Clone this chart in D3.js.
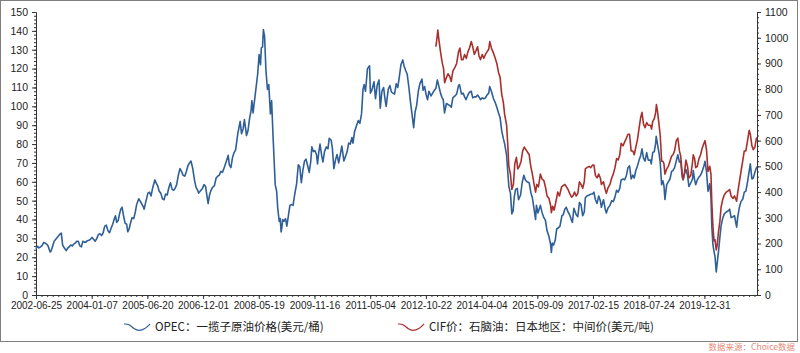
<!DOCTYPE html>
<html><head><meta charset="utf-8">
<script src="https://cdn.jsdelivr.net/npm/d3@7"></script>
<style>body{margin:0;background:#fff}svg{display:block}</style>
</head><body><svg id="c" width="800" height="353"></svg>
<script>
// ---------- data ----------
const xTickLabels = ["2002-06-25","2004-01-07","2005-06-20","2006-12-01","2008-05-19","2009-11-16","2011-05-04","2012-10-22","2014-04-04","2015-09-09","2017-02-15","2018-07-24","2019-12-31"];
const lastDate = "2021-05-10";
const leftTicks = [0,10,20,30,40,50,60,70,80,90,100,110,120,130,140,150];
const rightTicks = [0,100,200,300,400,500,600,700,800,900,1000,1100];
const seriesNames = ["OPEC：一揽子原油价格(美元/桶)", "CIF价：石脑油：日本地区：中间价(美元/吨)"];
const sourceText = "数据来源：Choice数据";

const opecData = [
["2002-06-25",24.5],["2002-07-10",25.8],["2002-07-25",25.0],["2002-08-10",25.5],["2002-08-25",26.2],["2002-09-10",27.8],["2002-09-25",27.5],["2002-10-10",27.0],["2002-10-25",26.0],["2002-11-10",23.5],["2002-11-15",22.8],["2002-11-25",23.5],["2002-12-10",26.0],["2002-12-25",28.5],
["2003-01-10",29.5],["2003-01-25",30.5],["2003-02-10",31.5],["2003-02-25",32.5],["2003-03-07",32.8],["2003-03-20",26.5],["2003-04-05",25.0],["2003-04-25",23.5],["2003-05-10",24.8],["2003-05-25",25.5],["2003-06-10",26.5],["2003-06-25",26.0],["2003-07-10",27.0],["2003-07-25",27.5],["2003-08-10",28.5],["2003-08-25",28.5],["2003-09-10",26.0],["2003-09-25",25.5],["2003-10-10",28.5],["2003-10-25",28.0],["2003-11-10",28.0],["2003-11-25",28.8],["2003-12-10",29.0],["2003-12-25",29.5],
["2004-01-10",30.5],["2004-01-25",29.5],["2004-02-10",28.5],["2004-02-25",30.0],["2004-03-10",32.0],["2004-03-25",32.5],["2004-04-10",31.5],["2004-04-25",33.0],["2004-05-10",36.5],["2004-05-25",37.0],["2004-06-10",34.0],["2004-06-25",33.0],["2004-07-10",35.5],["2004-07-25",37.5],["2004-08-10",40.5],["2004-08-20",42.0],["2004-09-01",38.5],["2004-09-15",39.5],["2004-09-30",43.5],["2004-10-10",45.5],["2004-10-22",46.5],["2004-11-05",42.0],["2004-11-20",38.0],["2004-12-05",37.5],["2004-12-15",33.5],["2004-12-28",35.0],
["2005-01-10",38.0],["2005-01-25",41.0],["2005-02-10",40.5],["2005-02-25",44.0],["2005-03-10",48.0],["2005-03-30",51.0],["2005-04-10",50.0],["2005-04-25",48.5],["2005-05-10",47.0],["2005-05-20",45.5],["2005-06-05",49.5],["2005-06-25",54.0],["2005-07-10",54.5],["2005-07-25",52.5],["2005-08-10",57.0],["2005-08-30",61.0],["2005-09-10",59.5],["2005-09-25",58.0],["2005-10-10",55.0],["2005-10-25",54.0],["2005-11-10",51.0],["2005-11-25",50.5],["2005-12-10",53.5],["2005-12-25",53.0],
["2006-01-10",57.0],["2006-01-25",59.5],["2006-02-10",56.0],["2006-02-25",55.5],["2006-03-10",56.5],["2006-03-25",58.5],["2006-04-10",63.5],["2006-04-25",67.0],["2006-05-10",65.5],["2006-05-25",63.5],["2006-06-10",63.0],["2006-06-25",65.5],["2006-07-10",68.5],["2006-07-25",70.0],["2006-08-08",71.0],["2006-08-25",67.0],["2006-09-10",61.0],["2006-09-25",57.0],["2006-10-10",55.5],["2006-10-20",54.0],["2006-11-10",55.5],["2006-11-25",56.5],["2006-12-10",58.5],["2006-12-25",57.5],
["2007-01-10",51.5],["2007-01-18",48.5],["2007-02-01",53.0],["2007-02-15",55.5],["2007-03-01",57.0],["2007-03-20",58.0],["2007-04-05",62.0],["2007-04-20",63.0],["2007-05-05",63.5],["2007-05-20",65.5],["2007-06-05",65.0],["2007-06-25",68.0],["2007-07-10",70.5],["2007-07-30",74.0],["2007-08-10",69.0],["2007-08-25",67.5],["2007-09-10",73.0],["2007-09-25",75.5],["2007-10-10",77.0],["2007-10-30",85.5],["2007-11-10",88.5],["2007-11-22",92.0],["2007-12-05",85.5],["2007-12-20",88.0],
["2008-01-02",93.0],["2008-01-22",84.5],["2008-02-05",87.0],["2008-02-20",93.5],["2008-03-05",97.5],["2008-03-14",103.0],["2008-03-25",96.5],["2008-04-10",104.0],["2008-04-25",111.0],["2008-05-08",117.0],["2008-05-22",127.5],["2008-06-05",122.0],["2008-06-13",131.0],["2008-06-25",131.5],["2008-07-03",140.7],["2008-07-15",137.0],["2008-07-28",119.0],["2008-08-12",109.0],["2008-08-25",111.5],["2008-09-10",96.0],["2008-09-22",103.0],["2008-10-05",85.0],["2008-10-15",73.0],["2008-10-27",58.5],["2008-11-10",55.0],["2008-11-20",46.5],["2008-12-05",39.0],["2008-12-15",40.5],["2008-12-24",33.4],["2008-12-31",35.6],
["2009-01-08",40.0],["2009-01-20",39.0],["2009-02-05",40.5],["2009-02-18",36.5],["2009-03-05",42.0],["2009-03-20",47.5],["2009-04-05",48.0],["2009-04-20",47.5],["2009-05-05",53.0],["2009-05-25",59.0],["2009-06-10",69.0],["2009-06-25",68.0],["2009-07-10",59.5],["2009-07-25",66.0],["2009-08-10",71.0],["2009-08-25",72.0],["2009-09-10",68.5],["2009-09-25",65.0],["2009-10-10",70.5],["2009-10-21",78.5],["2009-11-05",76.0],["2009-11-20",76.5],["2009-12-05",74.5],["2009-12-15",69.5],["2009-12-28",76.0],
["2010-01-08",80.0],["2010-01-25",73.5],["2010-02-05",70.5],["2010-02-20",76.0],["2010-03-10",78.5],["2010-03-25",77.5],["2010-04-06",83.0],["2010-04-25",82.0],["2010-05-06",78.0],["2010-05-21",67.0],["2010-06-05",71.5],["2010-06-20",74.5],["2010-07-06",70.0],["2010-07-25",75.5],["2010-08-05",79.0],["2010-08-25",71.0],["2010-09-10",73.5],["2010-09-25",76.0],["2010-10-10",80.5],["2010-10-25",80.0],["2010-11-10",83.5],["2010-11-20",80.5],["2010-12-05",86.5],["2010-12-25",90.0],
["2011-01-10",92.5],["2011-01-25",91.0],["2011-02-10",96.0],["2011-02-24",109.0],["2011-03-07",111.5],["2011-03-20",108.0],["2011-04-08",120.0],["2011-04-28",121.5],["2011-05-06",107.0],["2011-05-20",108.5],["2011-06-10",113.0],["2011-06-24",104.0],["2011-07-10",111.0],["2011-07-28",114.0],["2011-08-09",99.0],["2011-08-25",108.0],["2011-09-10",110.0],["2011-09-26",103.0],["2011-10-05",100.0],["2011-10-25",109.0],["2011-11-10",111.0],["2011-11-25",107.5],["2011-12-10",107.0],["2011-12-25",106.5],
["2012-01-10",112.0],["2012-01-25",110.0],["2012-02-10",116.0],["2012-02-24",122.0],["2012-03-13",124.6],["2012-03-25",121.5],["2012-04-10",119.0],["2012-04-25",117.0],["2012-05-10",110.5],["2012-05-25",103.0],["2012-06-10",96.0],["2012-06-26",88.7],["2012-07-10",97.0],["2012-07-25",100.5],["2012-08-10",108.0],["2012-08-25",112.0],["2012-09-14",114.5],["2012-09-25",108.5],["2012-10-10",110.5],["2012-10-25",106.0],["2012-11-07",103.5],["2012-11-20",108.0],["2012-12-10",105.5],["2012-12-25",107.0],
["2013-01-10",108.5],["2013-01-25",109.5],["2013-02-08",114.0],["2013-02-25",110.0],["2013-03-10",107.0],["2013-03-25",104.5],["2013-04-05",103.5],["2013-04-17",96.5],["2013-05-05",101.5],["2013-05-20",101.0],["2013-06-05",100.5],["2013-06-20",99.5],["2013-07-05",104.5],["2013-07-25",105.5],["2013-08-10",106.5],["2013-08-28",111.0],["2013-09-06",111.5],["2013-09-25",106.5],["2013-10-10",107.0],["2013-10-25",105.0],["2013-11-07",103.5],["2013-11-25",106.0],["2013-12-10",107.5],["2013-12-27",108.0],
["2014-01-10",104.5],["2014-01-25",105.0],["2014-02-10",105.0],["2014-02-25",106.0],["2014-03-10",105.0],["2014-03-25",103.5],["2014-04-10",104.5],["2014-04-25",104.0],["2014-05-10",104.5],["2014-05-25",106.0],["2014-06-10",107.0],["2014-06-19",110.5],["2014-07-05",108.0],["2014-07-25",104.0],["2014-08-10",102.0],["2014-08-25",99.5],["2014-09-10",96.5],["2014-09-25",94.0],["2014-10-10",87.0],["2014-10-25",83.0],["2014-11-07",80.0],["2014-11-25",74.0],["2014-12-05",66.0],["2014-12-16",57.5],["2014-12-31",54.0],
["2015-01-13",43.0],["2015-01-25",44.5],["2015-02-05",52.0],["2015-02-17",56.0],["2015-03-05",56.5],["2015-03-17",50.5],["2015-04-05",53.0],["2015-04-20",59.5],["2015-05-06",63.5],["2015-05-20",61.0],["2015-06-05",60.0],["2015-06-25",59.5],["2015-07-10",54.5],["2015-07-25",51.5],["2015-08-10",45.5],["2015-08-24",40.0],["2015-09-01",47.5],["2015-09-15",43.5],["2015-10-08",47.5],["2015-10-25",43.5],["2015-11-10",41.0],["2015-11-25",39.5],["2015-12-10",34.0],["2015-12-28",31.0],
["2016-01-12",27.0],["2016-01-20",22.5],["2016-01-28",27.5],["2016-02-10",26.5],["2016-02-25",29.0],["2016-03-10",35.0],["2016-03-25",35.5],["2016-04-10",36.5],["2016-04-28",42.0],["2016-05-10",42.5],["2016-05-26",45.5],["2016-06-08",46.5],["2016-06-25",44.0],["2016-07-10",42.5],["2016-07-28",39.5],["2016-08-05",38.5],["2016-08-19",46.0],["2016-09-10",42.5],["2016-09-25",41.5],["2016-10-10",49.0],["2016-10-25",48.0],["2016-11-10",42.0],["2016-11-25",44.0],["2016-12-05",51.5],["2016-12-20",52.5],
["2017-01-10",53.0],["2017-01-25",53.5],["2017-02-10",53.5],["2017-02-24",54.5],["2017-03-10",50.5],["2017-03-25",48.5],["2017-04-10",52.5],["2017-04-25",50.0],["2017-05-05",46.5],["2017-05-25",50.5],["2017-06-10",45.5],["2017-06-21",43.5],["2017-07-05",46.0],["2017-07-25",47.5],["2017-08-10",50.0],["2017-08-25",49.5],["2017-09-10",52.0],["2017-09-25",55.5],["2017-10-10",54.5],["2017-10-25",56.5],["2017-11-07",61.0],["2017-11-25",61.5],["2017-12-10",61.0],["2017-12-27",63.5],
["2018-01-10",67.5],["2018-01-25",68.5],["2018-02-09",61.5],["2018-02-25",63.5],["2018-03-10",62.0],["2018-03-25",66.0],["2018-04-10",68.5],["2018-04-25",71.5],["2018-05-10",74.0],["2018-05-22",77.5],["2018-06-05",72.5],["2018-06-20",71.0],["2018-07-05",75.5],["2018-07-20",71.5],["2018-08-10",71.5],["2018-08-17",69.5],["2018-08-31",75.5],["2018-09-15",76.0],["2018-09-28",80.5],["2018-10-03",84.1],["2018-10-15",80.0],["2018-10-30",75.0],["2018-11-10",70.0],["2018-11-23",58.5],["2018-12-05",60.5],["2018-12-15",58.0],["2018-12-24",50.6],
["2019-01-10",58.5],["2019-01-25",60.0],["2019-02-10",61.5],["2019-02-25",65.5],["2019-03-10",66.0],["2019-03-25",67.5],["2019-04-10",71.0],["2019-04-25",74.3],["2019-05-10",70.5],["2019-05-22",71.0],["2019-06-05",62.5],["2019-06-14",61.0],["2019-06-25",64.0],["2019-07-10",66.5],["2019-07-25",63.5],["2019-08-07",57.5],["2019-08-25",59.5],["2019-09-10",61.5],["2019-09-17",66.0],["2019-09-30",61.0],["2019-10-10",58.5],["2019-10-25",61.0],["2019-11-10",62.5],["2019-11-25",63.5],["2019-12-10",65.5],["2019-12-27",68.5],
["2020-01-06",70.9],["2020-01-20",65.5],["2020-02-03",55.0],["2020-02-20",59.0],["2020-03-02",52.0],["2020-03-10",36.5],["2020-03-20",27.0],["2020-03-31",23.0],["2020-04-09",20.5],["2020-04-21",12.2],["2020-04-30",17.0],["2020-05-12",23.0],["2020-05-25",30.5],["2020-06-05",36.5],["2020-06-20",40.5],["2020-07-06",43.0],["2020-07-25",44.0],["2020-08-10",44.5],["2020-08-25",45.5],["2020-09-08",41.0],["2020-09-25",41.5],["2020-10-10",42.0],["2020-10-30",36.0],["2020-11-10",41.5],["2020-11-25",46.5],["2020-12-10",49.5],["2020-12-28",51.0],
["2021-01-10",54.5],["2021-01-25",55.0],["2021-02-10",60.0],["2021-02-25",65.5],["2021-03-08",69.5],["2021-03-23",61.5],["2021-04-05",62.0],["2021-04-20",65.0],["2021-05-05",67.5],["2021-05-10",68.0]
];

const naphthaData = [
["2013-01-25",965],["2013-02-05",1000],["2013-02-12",1030],["2013-02-25",985],["2013-03-10",945],["2013-03-25",905],["2013-04-08",880],["2013-04-18",825],["2013-05-05",845],["2013-05-20",860],["2013-06-05",850],["2013-06-20",830],["2013-07-05",870],["2013-07-25",885],["2013-08-10",900],["2013-08-28",945],["2013-09-10",960],["2013-09-25",915],["2013-10-10",915],["2013-10-25",935],["2013-11-10",920],["2013-11-25",945],["2013-12-10",960],["2013-12-27",985],
["2014-01-10",965],["2014-01-25",935],["2014-02-10",950],["2014-02-25",965],["2014-03-10",930],["2014-03-25",915],["2014-04-10",935],["2014-04-25",920],["2014-05-10",935],["2014-05-25",945],["2014-06-10",955],["2014-06-20",985],["2014-07-05",960],["2014-07-25",940],["2014-08-10",920],["2014-08-25",900],["2014-09-10",865],["2014-09-25",845],["2014-10-10",780],["2014-10-25",750],["2014-11-07",700],["2014-11-25",660],["2014-12-05",590],["2014-12-16",500],["2014-12-31",470],
["2015-01-13",410],["2015-01-28",430],["2015-02-10",510],["2015-02-25",535],["2015-03-10",490],["2015-03-25",500],["2015-04-10",520],["2015-04-25",560],["2015-05-10",575],["2015-05-25",565],["2015-06-10",555],["2015-06-25",545],["2015-07-10",500],["2015-07-25",470],["2015-08-10",430],["2015-08-24",400],["2015-09-05",430],["2015-09-20",420],["2015-10-08",470],["2015-10-25",450],["2015-11-10",445],["2015-11-25",420],["2015-12-10",385],["2015-12-28",375],
["2016-01-12",350],["2016-01-20",320],["2016-02-01",345],["2016-02-15",330],["2016-03-01",360],["2016-03-20",400],["2016-04-05",385],["2016-04-25",420],["2016-05-10",425],["2016-05-26",430],["2016-06-10",420],["2016-06-25",410],["2016-07-10",395],["2016-07-28",380],["2016-08-10",385],["2016-08-25",400],["2016-09-10",385],["2016-09-25",395],["2016-10-10",440],["2016-10-25",430],["2016-11-10",415],["2016-11-25",440],["2016-12-05",490],["2016-12-20",495],
["2017-01-10",500],["2017-01-25",495],["2017-02-10",505],["2017-02-24",505],["2017-03-10",465],["2017-03-25",455],["2017-04-10",470],["2017-04-25",455],["2017-05-05",430],["2017-05-25",440],["2017-06-10",410],["2017-06-21",395],["2017-07-05",415],["2017-07-25",430],["2017-08-10",455],["2017-08-25",470],["2017-09-10",495],["2017-09-25",530],["2017-10-10",525],["2017-10-25",545],["2017-11-07",590],["2017-11-25",580],["2017-12-10",595],["2017-12-27",610],
["2018-01-10",625],["2018-01-25",625],["2018-02-09",560],["2018-02-25",560],["2018-03-10",545],["2018-03-25",575],["2018-04-10",605],["2018-04-25",650],["2018-05-10",690],["2018-05-22",710],["2018-06-05",665],["2018-06-20",650],["2018-07-05",670],["2018-07-20",660],["2018-08-10",660],["2018-08-20",645],["2018-08-31",675],["2018-09-15",685],["2018-09-28",710],["2018-10-05",740],["2018-10-15",715],["2018-10-30",660],["2018-11-10",620],["2018-11-23",520],["2018-12-05",520],["2018-12-15",510],["2018-12-24",470],
["2019-01-10",490],["2019-01-25",500],["2019-02-10",520],["2019-02-25",540],["2019-03-10",545],["2019-03-25",560],["2019-04-10",600],["2019-04-25",610],["2019-05-10",560],["2019-05-22",540],["2019-06-05",470],["2019-06-14",450],["2019-06-25",470],["2019-07-10",525],["2019-07-25",500],["2019-08-07",455],["2019-08-25",465],["2019-09-10",515],["2019-09-17",545],["2019-09-30",530],["2019-10-10",495],["2019-10-25",500],["2019-11-10",530],["2019-11-25",545],["2019-12-10",570],["2019-12-27",590],
["2020-01-06",600],["2020-01-20",565],["2020-02-03",480],["2020-02-20",500],["2020-03-02",470],["2020-03-10",360],["2020-03-20",270],["2020-03-31",210],["2020-04-09",215],["2020-04-21",175],["2020-04-30",195],["2020-05-12",245],["2020-05-25",285],["2020-06-05",340],["2020-06-20",370],["2020-07-06",390],["2020-07-25",400],["2020-08-10",405],["2020-08-25",410],["2020-09-08",385],["2020-09-25",375],["2020-10-10",385],["2020-10-30",365],["2020-11-10",400],["2020-11-25",440],["2020-12-10",480],["2020-12-28",525],
["2021-01-10",560],["2021-01-25",560],["2021-02-10",600],["2021-02-25",640],["2021-03-08",625],["2021-03-23",580],["2021-04-05",565],["2021-04-20",575],["2021-05-05",610],["2021-05-10",605]
];

// ---------- layout ----------
const plot = {left: 36, right: 757, top: 12, bottom: 295};
const colors = {opec: "#2f5f98", naph: "#a8302c", axis: "#333", text: "#222"};

const parse = d3.timeParse("%Y-%m-%d");
const tickDates = xTickLabels.map(parse);
const nT = tickDates.length;
const lastInterval = tickDates[nT-1] - tickDates[nT-2];
const N = (nT - 1) + (parse(lastDate) - tickDates[nT-1]) / lastInterval;

// category-like axis: ticks evenly spaced by index
const xIdx = d3.scaleLinear().domain([0, N]).range([plot.left, plot.right]);
const x = d3.scaleTime()
  .domain([...tickDates, parse(lastDate)])
  .range([...tickDates.map((d,i) => xIdx(i)), xIdx(N)]);
const yL = d3.scaleLinear().domain([0,150]).range([plot.bottom, plot.top]);
const yR = d3.scaleLinear().domain([0,1100]).range([plot.bottom, plot.top]);

const svg = d3.select("#c");
svg.append("rect").attr("x",0.5).attr("y",0.5).attr("width",797).attr("height",341)
  .attr("fill","#fff").attr("stroke","#7f7f7f").attr("stroke-width",1);

const axisFont = "'Liberation Sans', Arial, sans-serif";

function styleAxis(size){
  return g => {
    g.selectAll("path.domain").attr("stroke", colors.axis);
    g.selectAll("line").attr("stroke", colors.axis);
    g.selectAll("text").attr("fill", colors.text).style("font-family", axisFont).style("font-size", size);
  };
}

// x axis minor
svg.append("g").attr("transform",`translate(0,${plot.bottom})`)
  .call(d3.axisBottom(xIdx).tickValues(d3.range(0, N, 0.1)).tickSize(2).tickSizeOuter(0).tickFormat(""))
  .call(styleAxis("10px"));
// x axis major
svg.append("g").attr("transform",`translate(0,${plot.bottom})`)
  .call(d3.axisBottom(xIdx).tickValues(d3.range(0, nT)).tickSize(4).tickSizeOuter(0).tickPadding(3)
    .tickFormat(i => xTickLabels[i]))
  .call(styleAxis("10px"));

// left axis
svg.append("g").attr("transform",`translate(${plot.left},0)`)
  .call(d3.axisLeft(yL).tickValues(d3.range(0,151,2)).tickSize(2).tickSizeOuter(0).tickFormat(""))
  .call(styleAxis("10.5px"));
svg.append("g").attr("transform",`translate(${plot.left},0)`)
  .call(d3.axisLeft(yL).tickValues(leftTicks).tickSize(4).tickSizeOuter(0).tickPadding(4).tickFormat(d3.format("d")))
  .call(styleAxis("10.5px"));

// right axis
svg.append("g").attr("transform",`translate(${plot.right},0)`)
  .call(d3.axisRight(yR).tickValues(d3.range(0,1101,20)).tickSize(2).tickSizeOuter(0).tickFormat(""))
  .call(styleAxis("10.5px"));
svg.append("g").attr("transform",`translate(${plot.right},0)`)
  .call(d3.axisRight(yR).tickValues(rightTicks).tickSize(4).tickSizeOuter(0).tickPadding(4).tickFormat(d3.format("d")))
  .call(styleAxis("10.5px"));

// lines
const opec = opecData.map(([d,v]) => ({date: parse(d), v}));
const naph = naphthaData.map(([d,v]) => ({date: parse(d), v}));

svg.append("path").datum(opec)
  .attr("fill","none").attr("stroke",colors.opec).attr("stroke-width",1.6).attr("stroke-linejoin","round")
  .attr("d", d3.line().x(d => x(d.date)).y(d => yL(d.v)));
svg.append("path").datum(naph)
  .attr("fill","none").attr("stroke",colors.naph).attr("stroke-width",1.6).attr("stroke-linejoin","round")
  .attr("d", d3.line().x(d => x(d.date)).y(d => yR(d.v)));

// legend
const legendY = 327;
const legendItems = [
  {name: seriesNames[0], color: colors.opec, x: 124},
  {name: seriesNames[1], color: colors.naph, x: 398}
];
const wave = d3.line().curve(d3.curveBasis);
legendItems.forEach(it => {
  const g = svg.append("g").attr("transform", `translate(${it.x},${legendY})`);
  g.append("path")
    .attr("d", wave([[0,-3],[5,-3],[10,2],[15,4],[21,2],[26,-3]]))
    .attr("fill","none").attr("stroke", it.color).attr("stroke-width",1.2);
  g.append("text").attr("x", 31).attr("y", 4)
    .attr("fill","#222")
    .style("font-family","'Noto Sans CJK SC', 'Noto Sans', sans-serif")
    .style("font-size","11.5px")
    .text(it.name);
});

// source
svg.append("text").attr("x", 795).attr("y", 350).attr("text-anchor","end")
  .attr("fill","#e58a7a")
  .style("font-family","'Noto Sans CJK SC', sans-serif").style("font-size","8.5px")
  .text(sourceText);
</script>
</body></html>
